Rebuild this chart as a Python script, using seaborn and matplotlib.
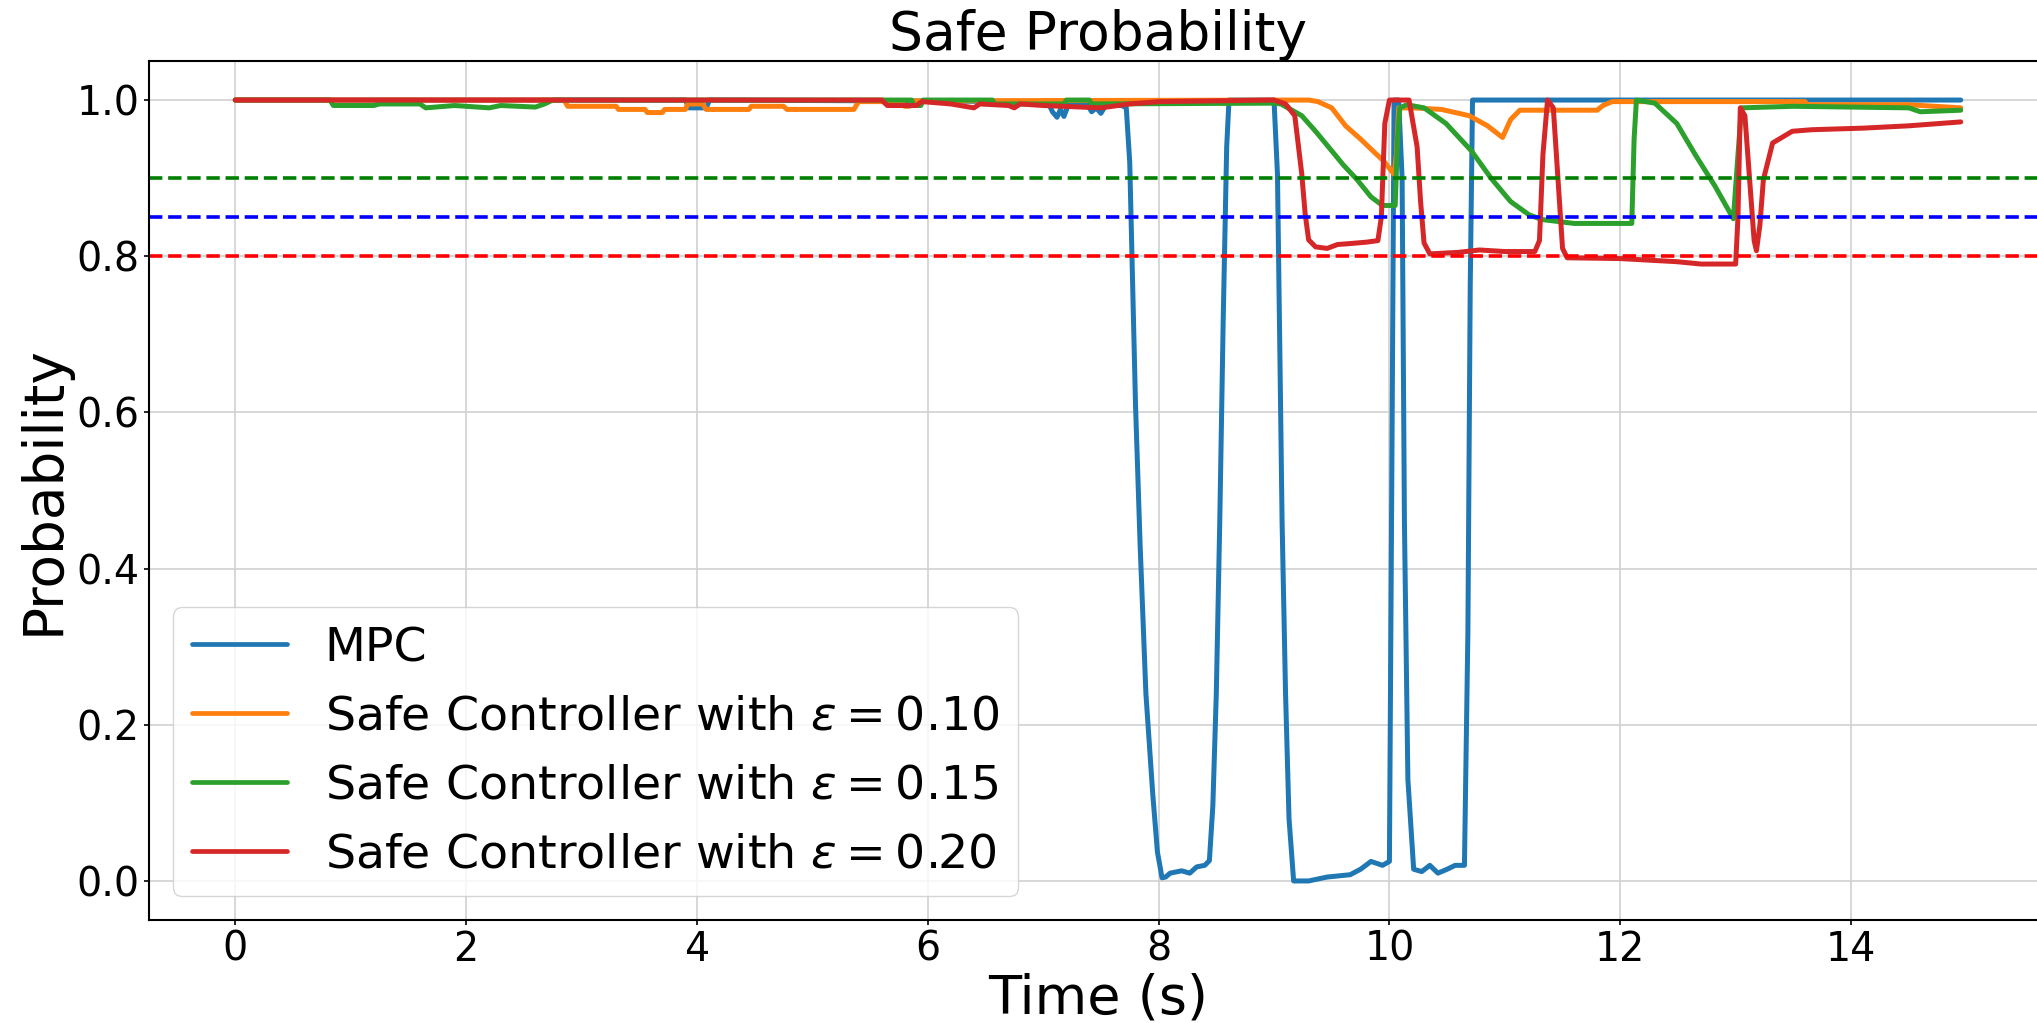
import numpy as np
import pandas as pd
import matplotlib
matplotlib.use("Agg")
import matplotlib.pyplot as plt
import seaborn as sns

# ---- data: (time, safe probability) breakpoints for each controller ----
mpc_t = [0.00, 3.90, 3.93, 4.08, 4.11, 7.04, 7.08, 7.12, 7.15, 7.18, 7.22, 7.38, 7.42,
         7.46, 7.50, 7.55, 7.68, 7.72, 7.75, 7.80, 7.84, 7.89, 7.95, 7.99, 8.03, 8.06,
         8.10, 8.20, 8.27, 8.33, 8.40, 8.44, 8.47, 8.50, 8.53, 8.56, 8.59, 8.61, 9.00,
         9.03, 9.05, 9.07, 9.10, 9.13, 9.17, 9.30, 9.46, 9.66, 9.75, 9.84, 9.94, 10.00,
         10.02, 10.04, 10.08, 10.11, 10.13, 10.16, 10.21, 10.28, 10.35, 10.42, 10.50,
         10.57, 10.65, 10.68, 10.70, 10.72, 14.95]
mpc_p = [1.000, 1.000, 0.990, 0.990, 1.000, 0.998, 0.985, 0.978, 0.988, 0.979, 0.995, 0.995, 0.985,
         0.990, 0.983, 0.995, 0.993, 0.990, 0.920, 0.610, 0.430, 0.240, 0.110, 0.037, 0.004, 0.005,
         0.010, 0.013, 0.010, 0.018, 0.020, 0.026, 0.096, 0.240, 0.460, 0.720, 0.940, 1.000, 1.000,
         0.905, 0.685, 0.460, 0.240, 0.080, 0.000, 0.000, 0.005, 0.008, 0.015, 0.025, 0.020, 0.025,
         0.500, 1.000, 1.000, 0.900, 0.460, 0.130, 0.015, 0.012, 0.020, 0.010, 0.015,
         0.020, 0.020, 0.320, 0.760, 1.000, 1.000]

eps10_t = [0.00, 2.85, 2.88, 3.30, 3.32, 3.55, 3.57, 3.70, 3.72, 3.90, 3.92, 4.05, 4.08,
           4.45, 4.47, 4.75, 4.78, 5.36, 5.40, 5.78, 5.80, 5.84, 5.88, 9.30, 9.38, 9.50,
           9.62, 9.75, 9.87, 9.95, 10.04, 10.06, 10.08, 10.20, 10.45, 10.69, 10.85, 10.98,
           11.05, 11.13, 11.80, 11.85, 11.93, 13.60, 13.62, 14.50, 14.95]
eps10_p = [1.000, 1.000, 0.992, 0.992, 0.988, 0.988, 0.984, 0.984, 0.988, 0.988, 0.995, 0.995, 0.988,
           0.988, 0.992, 0.992, 0.988, 0.988, 0.998, 0.998, 0.992, 0.992, 0.999, 1.000, 0.998, 0.990,
           0.967, 0.950, 0.933, 0.922, 0.905, 0.930, 0.990, 0.990, 0.988, 0.980, 0.967, 0.952,
           0.975, 0.987, 0.987, 0.993, 0.998, 0.998, 0.994, 0.994, 0.990]

eps15_t = [0.00, 0.82, 0.85, 1.20, 1.25, 1.60, 1.65, 1.90, 2.20, 2.30, 2.60, 2.68, 2.75,
           5.86, 5.88, 5.94, 5.96, 6.56, 6.58, 7.18, 7.20, 7.40, 7.42, 9.00, 9.06, 9.24,
           9.36, 9.50, 9.60, 9.72, 9.84, 9.94, 10.05, 10.07, 10.09, 10.15, 10.30, 10.49,
           10.71, 10.88, 11.05, 11.21, 11.32, 11.60, 12.10, 12.12, 12.14, 12.30, 12.49,
           12.65, 12.82, 12.98, 13.02, 13.05, 13.50, 14.50, 14.60, 14.95]
eps15_p = [1.000, 1.000, 0.993, 0.993, 0.995, 0.995, 0.990, 0.993, 0.990, 0.993, 0.991, 0.995, 1.000,
           1.000, 0.993, 0.993, 1.000, 1.000, 0.995, 0.995, 1.000, 1.000, 0.995, 0.996, 0.995, 0.980,
           0.960, 0.935, 0.917, 0.898, 0.876, 0.865, 0.865, 0.950, 0.990, 0.994, 0.990, 0.970,
           0.935, 0.900, 0.870, 0.853, 0.847, 0.842, 0.842, 0.950, 1.000, 0.996, 0.970,
           0.930, 0.890, 0.848, 0.930, 0.990, 0.992, 0.990, 0.985, 0.987]

eps20_t = [0.00, 5.60, 5.65, 5.90, 5.95, 6.20, 6.40, 6.45, 6.70, 6.75, 6.80, 7.00, 7.50,
           7.60, 7.75, 8.00, 9.00, 9.10, 9.18, 9.24, 9.27, 9.30, 9.36, 9.46, 9.55, 9.64,
           9.80, 9.90, 9.93, 9.96, 10.00, 10.17, 10.24, 10.27, 10.30, 10.35, 10.60, 10.78,
           11.00, 11.26, 11.30, 11.33, 11.37, 11.42, 11.46, 11.50, 11.54, 12.00, 12.49,
           12.70, 13.00, 13.02, 13.04, 13.08, 13.12, 13.16, 13.18, 13.21, 13.24, 13.32,
           13.49, 13.66, 14.10, 14.50, 14.95]
eps20_p = [1.000, 1.000, 0.993, 0.993, 0.998, 0.995, 0.990, 0.995, 0.993, 0.990, 0.995, 0.993, 0.990,
           0.992, 0.995, 0.998, 1.000, 0.995, 0.980, 0.906, 0.854, 0.821, 0.812, 0.810, 0.815, 0.816,
           0.818, 0.820, 0.850, 0.970, 1.000, 1.000, 0.940, 0.870, 0.817, 0.803, 0.805, 0.808,
           0.806, 0.806, 0.820, 0.930, 1.000, 0.990, 0.900, 0.810, 0.798, 0.797, 0.793,
           0.790, 0.790, 0.850, 0.990, 0.980, 0.900, 0.820, 0.807, 0.840, 0.898, 0.945,
           0.960, 0.962, 0.964, 0.967, 0.972]

series_labels = ["MPC",
                 r"Safe Controller with $\varepsilon = 0.10$",
                 r"Safe Controller with $\varepsilon = 0.15$",
                 r"Safe Controller with $\varepsilon = 0.20$"]
series_colors = ["#1f77b4", "#ff7f0e", "#2ca02c", "#d62728"]

thresholds = [0.90, 0.85, 0.80]
threshold_colors = ["g", "b", "r"]

# ---- long-form table for seaborn ----
frames = []
for label, t, p in zip(series_labels,
                       [mpc_t, eps10_t, eps15_t, eps20_t],
                       [mpc_p, eps10_p, eps15_p, eps20_p]):
    frames.append(pd.DataFrame({"Time (s)": t, "Probability": p, "Controller": label}))
df = pd.concat(frames, ignore_index=True)

# ---- style ----
sns.set_style("whitegrid", {
    "axes.edgecolor": "black",
    "grid.color": "0.82",
    "xtick.bottom": True,
    "ytick.left": True,
    "xtick.color": "black",
    "ytick.color": "black",
    "text.color": "black",
    "axes.labelcolor": "black",
})
plt.rcParams["font.family"] = ["DejaVu Sans"]
plt.rcParams["grid.linewidth"] = 1.2
plt.rcParams["xtick.major.size"] = 3.5
plt.rcParams["ytick.major.size"] = 3.5

fig = plt.figure(figsize=(20.37, 10.23), dpi=100)
ax = fig.add_axes([149 / 2037, 103 / 1023, (2047 - 149) / 2037, (962 - 103) / 1023])

sns.lineplot(data=df, x="Time (s)", y="Probability", hue="Controller",
             palette=dict(zip(series_labels, series_colors)),
             hue_order=series_labels, estimator=None, sort=False,
             linewidth=3.6, ax=ax)

for y, c in zip(thresholds, threshold_colors):
    ax.axhline(y, color=c, linestyle="--", linewidth=2.6)

ax.set_xlim(-0.7475, 15.6975)
ax.set_ylim(-0.05, 1.05)
ax.set_xticks([0, 2, 4, 6, 8, 10, 12, 14])
ax.set_yticks([0.0, 0.2, 0.4, 0.6, 0.8, 1.0])
ax.yaxis.set_major_formatter(matplotlib.ticker.FormatStrFormatter("%.1f"))
ax.tick_params(labelsize=28.5, width=1.2)
for s in ax.spines.values():
    s.set_linewidth(1.5)

ax.set_title("Safe Probability", fontsize=38.5, pad=8)
ax.set_xlabel("Time (s)", fontsize=39, labelpad=2)
ax.set_ylabel("Probability", fontsize=39.5)

leg = ax.legend(loc="lower left", fontsize=34.2)
for line in leg.get_lines():
    line.set_linewidth(3.4)

fig.savefig("out.png", dpi=100)
